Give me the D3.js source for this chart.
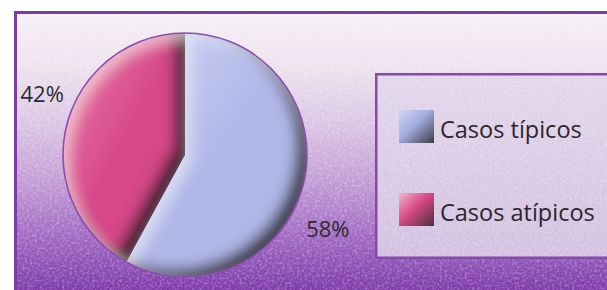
<!DOCTYPE html>
<html>
<head>
<meta charset="utf-8">
<script src="https://cdn.jsdelivr.net/npm/d3@7"></script>
<style>
  html, body { margin: 0; padding: 0; background: #fff; }
  svg { display: block; }
</style>
</head>
<body>
<svg id="chart"></svg>
<script>
// data
const categories = ["Casos típicos", "Casos atípicos"];
const values = [58, 42];
const labels = ["58%", "42%"];

const sliceColors = ["#b1b8e8", "#d6488a"];
const sliceLight = ["#d0d5f4", "#ec80ab"];
const swatchStops = [
  ["#d2d4f0", "#a2aee0", "#3c3b45"],
  ["#f5b6cc", "#d84a88", "#4a2f37"]
];

const width = 607, height = 290;
const frame = { x: 14, y: 11 };
const cx = 185, cy = 155, radius = 122;

const svg = d3.select("#chart")
  .attr("width", width)
  .attr("height", height);

const defs = svg.append("defs");

// background gradient: white at top, purple at bottom
const bg = defs.append("linearGradient")
  .attr("id", "bg").attr("x1", 0).attr("y1", 0).attr("x2", 0).attr("y2", 1);
[[0, "#f6f1f5"], [0.2, "#ede1ee"], [0.4, "#dac4e4"], [0.6, "#c29cd5"], [0.78, "#a46cc4"], [1, "#7a36a8"]]
  .forEach(s => bg.append("stop").attr("offset", s[0]).attr("stop-color", s[1]));

const lg = defs.append("linearGradient")
  .attr("id", "legendFill").attr("x1", 0).attr("y1", 0).attr("x2", 0).attr("y2", 1);
lg.append("stop").attr("offset", 0).attr("stop-color", "#e3d7eb");
lg.append("stop").attr("offset", 1).attr("stop-color", "#d3c0e1");

// leathery grain
const grain = defs.append("filter").attr("id", "grain")
  .attr("x", 0).attr("y", 0).attr("width", "100%").attr("height", "100%");
grain.append("feTurbulence").attr("type", "fractalNoise")
  .attr("baseFrequency", "0.4").attr("numOctaves", 2).attr("seed", 4);
grain.append("feColorMatrix").attr("type", "matrix")
  .attr("values", "0 0 0 0 1  0 0 0 0 1  0 0 0 0 1  0 0 0 -1.8 1.05");

// bevel for the pie slices (light from upper left)
const bevel = defs.append("filter").attr("id", "bevel")
  .attr("x", "-10%").attr("y", "-10%").attr("width", "120%").attr("height", "120%");
bevel.append("feGaussianBlur").attr("in", "SourceAlpha").attr("stdDeviation", 7).attr("result", "b");
bevel.append("feOffset").attr("in", "b").attr("dx", -11).attr("dy", -8).attr("result", "o1");
bevel.append("feComposite").attr("in", "SourceAlpha").attr("in2", "o1")
  .attr("operator", "arithmetic").attr("k2", 1).attr("k3", -1).attr("result", "dark");
bevel.append("feFlood").attr("flood-color", "#2a2228").attr("flood-opacity", 0.95);
bevel.append("feComposite").attr("in2", "dark").attr("operator", "in").attr("result", "darkC");
bevel.append("feOffset").attr("in", "b").attr("dx", 6).attr("dy", 6).attr("result", "o2");
bevel.append("feComposite").attr("in", "SourceAlpha").attr("in2", "o2")
  .attr("operator", "arithmetic").attr("k2", 1).attr("k3", -1).attr("result", "light");
bevel.append("feFlood").attr("flood-color", "#ffffff").attr("flood-opacity", 0.45);
bevel.append("feComposite").attr("in2", "light").attr("operator", "in").attr("result", "lightC");
const merge = bevel.append("feMerge");
merge.append("feMergeNode").attr("in", "SourceGraphic");
merge.append("feMergeNode").attr("in", "darkC");
merge.append("feMergeNode").attr("in", "lightC");
bevel.append("feComposite").attr("in2", "SourceAlpha").attr("operator", "in");

// slice and swatch gradients
values.forEach((v, i) => {
  const g = defs.append("linearGradient").attr("id", "slice" + i)
    .attr("x1", 0).attr("y1", 0).attr("x2", 1).attr("y2", 1);
  g.append("stop").attr("offset", 0).attr("stop-color", sliceLight[i]);
  g.append("stop").attr("offset", 0.5).attr("stop-color", sliceColors[i]);
  g.append("stop").attr("offset", 1).attr("stop-color", sliceColors[i]);

  const s = defs.append("linearGradient").attr("id", "swatch" + i)
    .attr("x1", 0).attr("y1", 0).attr("x2", 1).attr("y2", 1);
  s.append("stop").attr("offset", 0).attr("stop-color", swatchStops[i][0]);
  s.append("stop").attr("offset", 0.45).attr("stop-color", swatchStops[i][1]);
  s.append("stop").attr("offset", 1).attr("stop-color", swatchStops[i][2]);
});

/////// FRAME ///////
svg.append("rect")
  .attr("x", frame.x).attr("y", frame.y)
  .attr("width", width - frame.x + 5).attr("height", height - frame.y + 5)
  .attr("fill", "url(#bg)");
svg.append("rect")
  .attr("x", frame.x).attr("y", frame.y)
  .attr("width", width - frame.x).attr("height", height - frame.y)
  .attr("filter", "url(#grain)")
  .attr("opacity", 0.4);
svg.append("rect")
  .attr("x", frame.x + 1.5).attr("y", frame.y + 1.5)
  .attr("width", width).attr("height", height)
  .attr("fill", "none")
  .attr("stroke", "#7d3ca5")
  .attr("stroke-width", 3);

/////// PIE ///////
const pie = d3.pie().sort(null).value(d => d);
const arcs = pie(values);

const arc = d3.arc().innerRadius(0).outerRadius(radius);
const labelArc = d3.arc().innerRadius(158).outerRadius(158);

const g = svg.append("g").attr("transform", `translate(${cx},${cy})`);

g.selectAll("path.slice")
  .data(arcs)
  .enter().append("path")
  .attr("class", "slice")
  .attr("d", arc)
  .attr("fill", (d, i) => `url(#slice${i})`)
  .attr("filter", "url(#bevel)");

g.append("circle")
  .attr("r", radius)
  .attr("fill", "none")
  .attr("stroke", "#8c4db2")
  .attr("stroke-width", 1.6);

// percent labels, pushed a bit clockwise like the original
const shift = 0.19;
g.selectAll("text.pct")
  .data(arcs)
  .enter().append("text")
  .attr("class", "pct")
  .attr("transform", d => "translate(" + labelArc.centroid({ startAngle: d.startAngle + shift, endAngle: d.endAngle + shift }) + ")")
  .attr("text-anchor", "middle")
  .attr("dy", "0.68em")
  .attr("font-family", "'Open Sans', sans-serif")
  .attr("font-size", 22)
  .attr("fill", "#2e2a30")
  .text((d, i) => labels[i]);

/////// LEGEND ///////
const legend = { x: 375, y: 73, h: 186 };
svg.append("rect")
  .attr("x", legend.x + 1.25).attr("y", legend.y + 1.25)
  .attr("width", width).attr("height", legend.h - 2.5)
  .attr("fill", "url(#legendFill)")
  .attr("stroke", "#8849ad")
  .attr("stroke-width", 2.5);
svg.append("rect")
  .attr("x", legend.x + 3).attr("y", legend.y + 3)
  .attr("width", width).attr("height", legend.h - 6)
  .attr("filter", "url(#grain)")
  .attr("opacity", 0.35);

const ly = d3.scalePoint().domain(categories).range([127, 210]);

const items = svg.selectAll("g.item")
  .data(categories)
  .enter().append("g")
  .attr("class", "item")
  .attr("transform", d => `translate(0,${ly(d)})`);

items.append("rect")
  .attr("x", 399).attr("y", -17)
  .attr("width", 35).attr("height", 33)
  .attr("fill", (d, i) => `url(#swatch${i})`);

items.append("text")
  .attr("x", 440).attr("y", 11)
  .attr("font-family", "'Open Sans', sans-serif")
  .attr("font-size", 23.5)
  .attr("fill", "#2a262c")
  .text(d => d);
</script>
</body>
</html>
